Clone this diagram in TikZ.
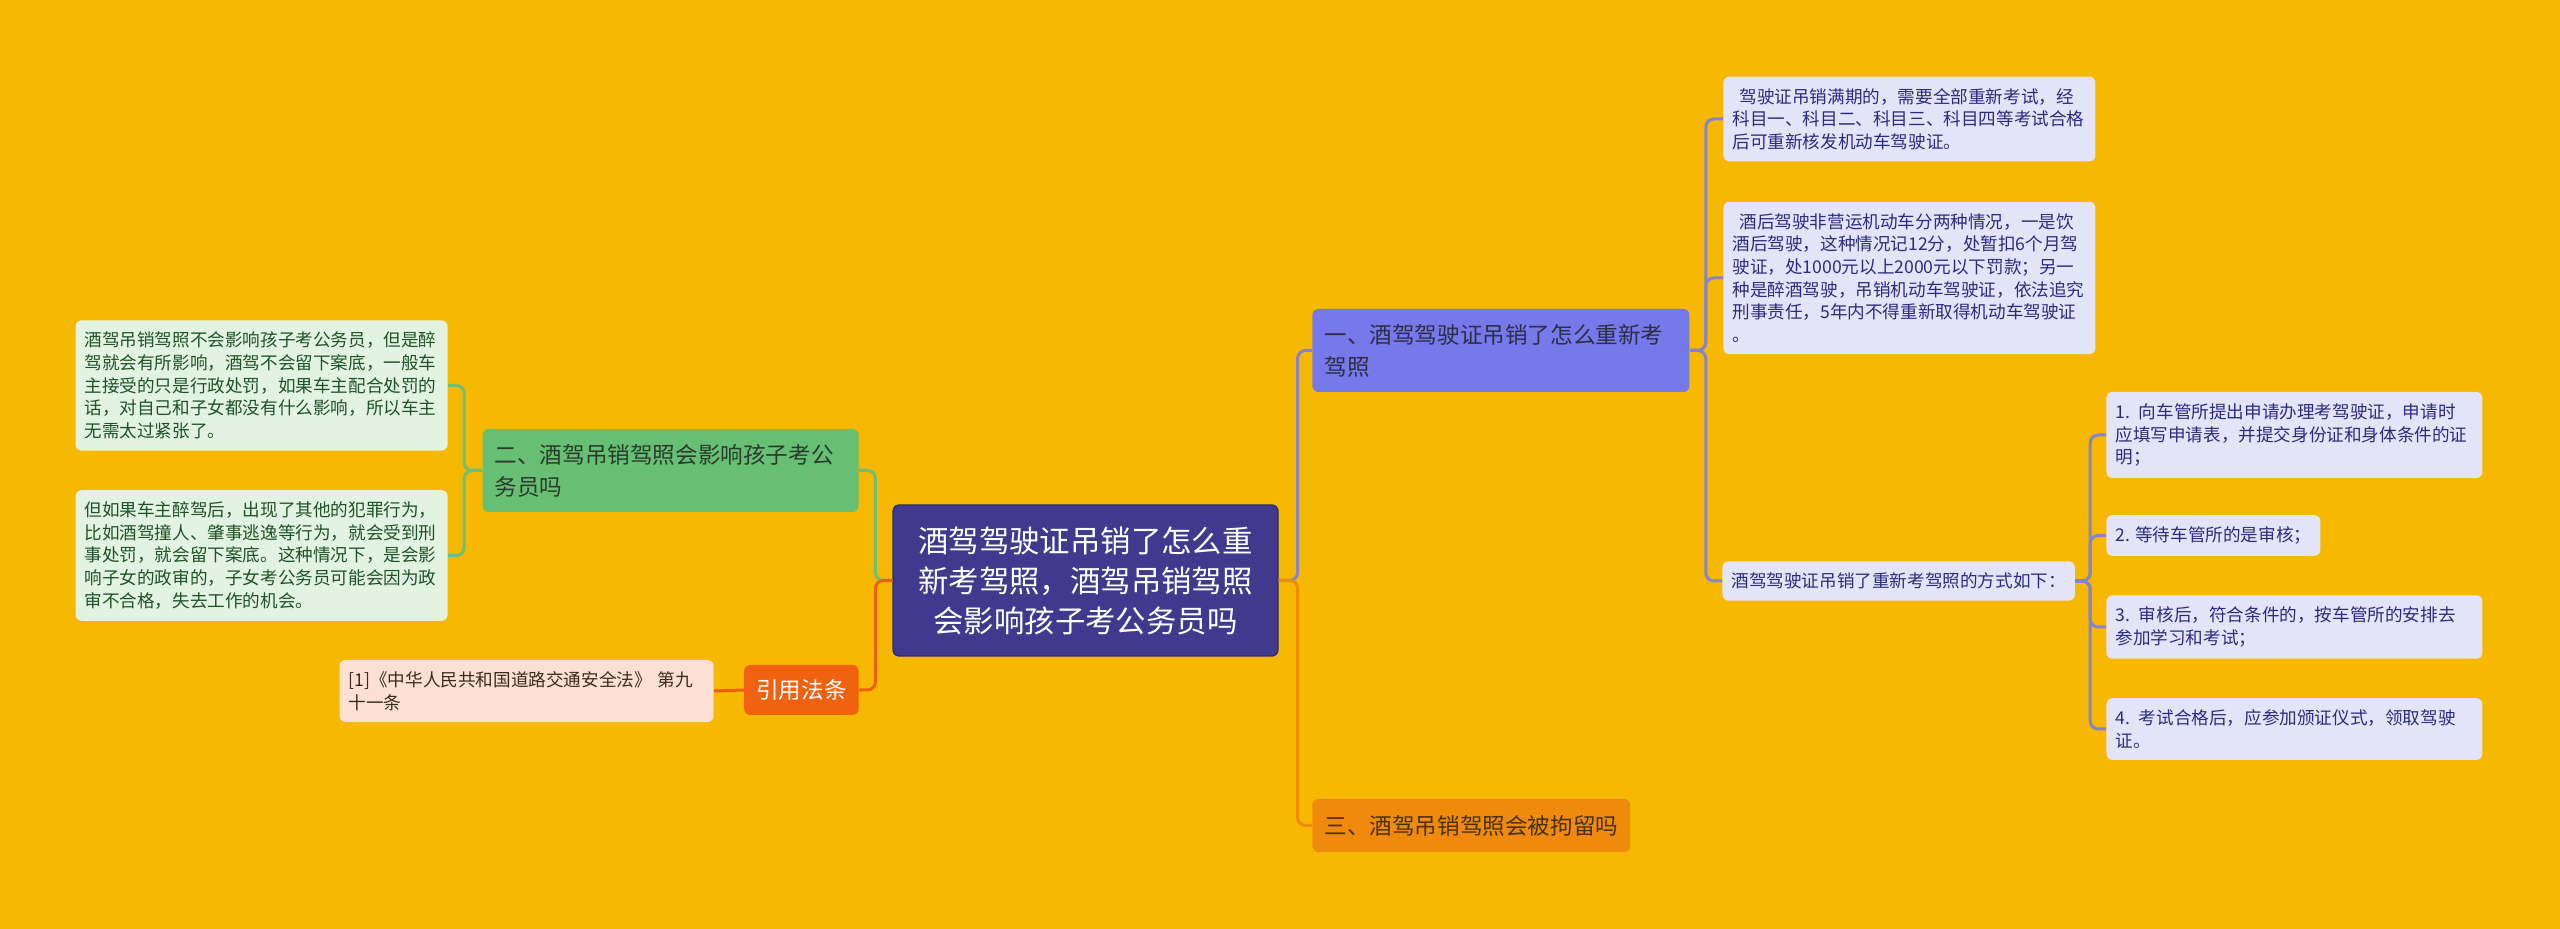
\documentclass[tikz,border=0pt]{standalone}
\usepackage{fontspec}
\usepackage{tikz}
\usetikzlibrary{calc}

\newfontfamily\cjk{Noto Sans CJK SC}
\newcommand{\rootfont}{\cjk\fontsize{15.2pt}{20pt}\selectfont}
\newcommand{\topicfont}{\cjk\fontsize{11.3pt}{16pt}\selectfont}
\newcommand{\leaffont}{\cjk\fontsize{8.8pt}{11.35pt}\selectfont}

\definecolor{bgc}{HTML}{F6B900}
\definecolor{rootc}{HTML}{3F3A8D}
\definecolor{rootd}{HTML}{2E2A6E}
\definecolor{onec}{HTML}{7679E9}
\definecolor{onet}{HTML}{2D2D45}
\definecolor{lavc}{HTML}{E4E4F8}
\definecolor{lavt}{HTML}{2B2B80}
\definecolor{purl}{HTML}{8584CC}
\definecolor{twoc}{HTML}{66BF72}
\definecolor{twot}{HTML}{2C3A2E}
\definecolor{grnc}{HTML}{E3F3E2}
\definecolor{grnt}{HTML}{1F5226}
\definecolor{grnl}{HTML}{6CC07A}
\definecolor{threec}{HTML}{F08A0D}
\definecolor{threet}{HTML}{4A3000}
\definecolor{orgl}{HTML}{F08A0D}
\definecolor{citec}{HTML}{F0620F}
\definecolor{redl}{HTML}{EE6010}
\definecolor{refc}{HTML}{FCE0D3}
\definecolor{reft}{HTML}{3A2A22}

\begin{document}
\begin{tikzpicture}[x=0.5pt, y=-0.5pt,
    root/.style={draw=rootd, line width=0.6pt, fill=rootc, rounded corners=3pt, text=white,
        font=\rootfont, align=center, minimum width=192.5pt, minimum height=75.5pt, inner sep=0pt},
    topic/.style={rounded corners=3pt, font=\topicfont, align=left, inner xsep=6pt, inner ysep=5pt},
    leaf/.style={rounded corners=3pt, font=\leaffont, align=left, inner xsep=4.5pt, inner ysep=5.75pt},
    lnk/.style={line width=1.5pt, rounded corners=4pt}]

    \fill[bgc] (0,0) rectangle (2560,929);

    \node[root] (root) at (1085.5,580.5) {酒驾驾驶证吊销了怎么重\\新考驾照，酒驾吊销驾照\\会影响孩子考公务员吗};

    \node[topic, fill=onec, text=onet, text width=176.5pt, minimum height=41.5pt, anchor=west] (one) at (1312,350.5) {一、酒驾驾驶证吊销了怎么重新考\\驾照};
    \node[topic, fill=threec, text=threet, minimum height=26.5pt, anchor=west] (three) at (1312,825.5) {三、酒驾吊销驾照会被拘留吗};
    \node[topic, fill=twoc, text=twot, text width=176pt, minimum height=41.5pt, anchor=east] (two) at (859,470.5) {二、酒驾吊销驾照会影响孩子考公\\务员吗};
    \node[topic, fill=citec, text=white, minimum height=25pt, anchor=east] (cite) at (859,690) {引用法条};

    \node[leaf, fill=lavc, text=lavt, text width=177pt, anchor=west] (p1) at (1723,119) {\hspace*{.4em}驾驶证吊销满期的，需要全部重新考试，经\\科目一、科目二、科目三、科目四等考试合格\\后可重新核发机动车驾驶证。};
    \node[leaf, fill=lavc, text=lavt, text width=177pt, anchor=west] (p2) at (1723,278) {\hspace*{.4em}酒后驾驶非营运机动车分两种情况，一是饮\\酒后驾驶，这种情况记12分，处暂扣6个月驾\\驶证，处1000元以上2000元以下罚款；另一\\种是醉酒驾驶，吊销机动车驾驶证，依法追究\\刑事责任，5年内不得重新取得机动车驾驶证\\。};
    \node[leaf, fill=lavc, text=lavt, anchor=west] (way) at (1722,581) {酒驾驾驶证吊销了重新考驾照的方式如下：};

    \node[leaf, fill=lavc, text=lavt, text width=179pt, anchor=west] (s1) at (2106,435) {1. 向车管所提出申请办理考驾驶证，申请时\\应填写申请表，并提交身份证和身体条件的证\\明；};
    \node[leaf, fill=lavc, text=lavt, anchor=west] (s2) at (2106,535.5) {2. 等待车管所的是审核；};
    \node[leaf, fill=lavc, text=lavt, text width=179pt, anchor=west] (s3) at (2106,627) {3. 审核后，符合条件的，按车管所的安排去\\参加学习和考试；};
    \node[leaf, fill=lavc, text=lavt, text width=179pt, anchor=west] (s4) at (2106,729) {4. 考试合格后，应参加颁证仪式，领取驾驶\\证。};

    \node[leaf, fill=grnc, text=grnt, text width=177pt, anchor=east] (gA) at (448,385.5) {酒驾吊销驾照不会影响孩子考公务员，但是醉\\驾就会有所影响，酒驾不会留下案底，一般车\\主接受的只是行政处罚，如果车主配合处罚的\\话，对自己和子女都没有什么影响，所以车主\\无需太过紧张了。};
    \node[leaf, fill=grnc, text=grnt, text width=177pt, anchor=east] (gB) at (448,555.5) {但如果车主醉驾后，出现了其他的犯罪行为，\\比如酒驾撞人、肇事逃逸等行为，就会受到刑\\事处罚，就会留下案底。这种情况下，是会影\\响子女的政审的，子女考公务员可能会因为政\\审不合格，失去工作的机会。};

    \node[leaf, fill=refc, text=reft, text width=178pt, anchor=east] (ref) at (714,691) {[1]《中华人民共和国道路交通安全法》 第九\\十一条};

    \draw[lnk, purl] (root.east) -- ([xshift=9.5pt]root.east) |- (one.west);
    \draw[lnk, orgl] (root.east) -- ([xshift=9.5pt]root.east) |- (three.west);
    \draw[lnk, grnl] (root.west) -- ([xshift=-8.5pt]root.west) |- (two.east);
    \draw[lnk, redl] (root.west) -- ([xshift=-8.5pt]root.west) |- (cite.east);

    \draw[lnk, purl] (one.east) -- ([xshift=8pt]one.east) |- (p1.west);
    \draw[lnk, purl] (one.east) -- ([xshift=8pt]one.east) |- (p2.west);
    \draw[lnk, purl] (one.east) -- ([xshift=8pt]one.east) |- (way.west);

    \draw[lnk, purl] (way.east) -- ([xshift=7.5pt]way.east) |- (s1.west);
    \draw[lnk, purl] (way.east) -- ([xshift=7.5pt]way.east) |- (s2.west);
    \draw[lnk, purl] (way.east) -- ([xshift=7.5pt]way.east) |- (s3.west);
    \draw[lnk, purl] (way.east) -- ([xshift=7.5pt]way.east) |- (s4.west);

    \draw[lnk, grnl] (two.west) -- ([xshift=-9pt]two.west) |- (gA.east);
    \draw[lnk, grnl] (two.west) -- ([xshift=-9pt]two.west) |- (gB.east);

    \draw[lnk, redl] (cite.west) -- (ref.east);

\end{tikzpicture}
\end{document}
